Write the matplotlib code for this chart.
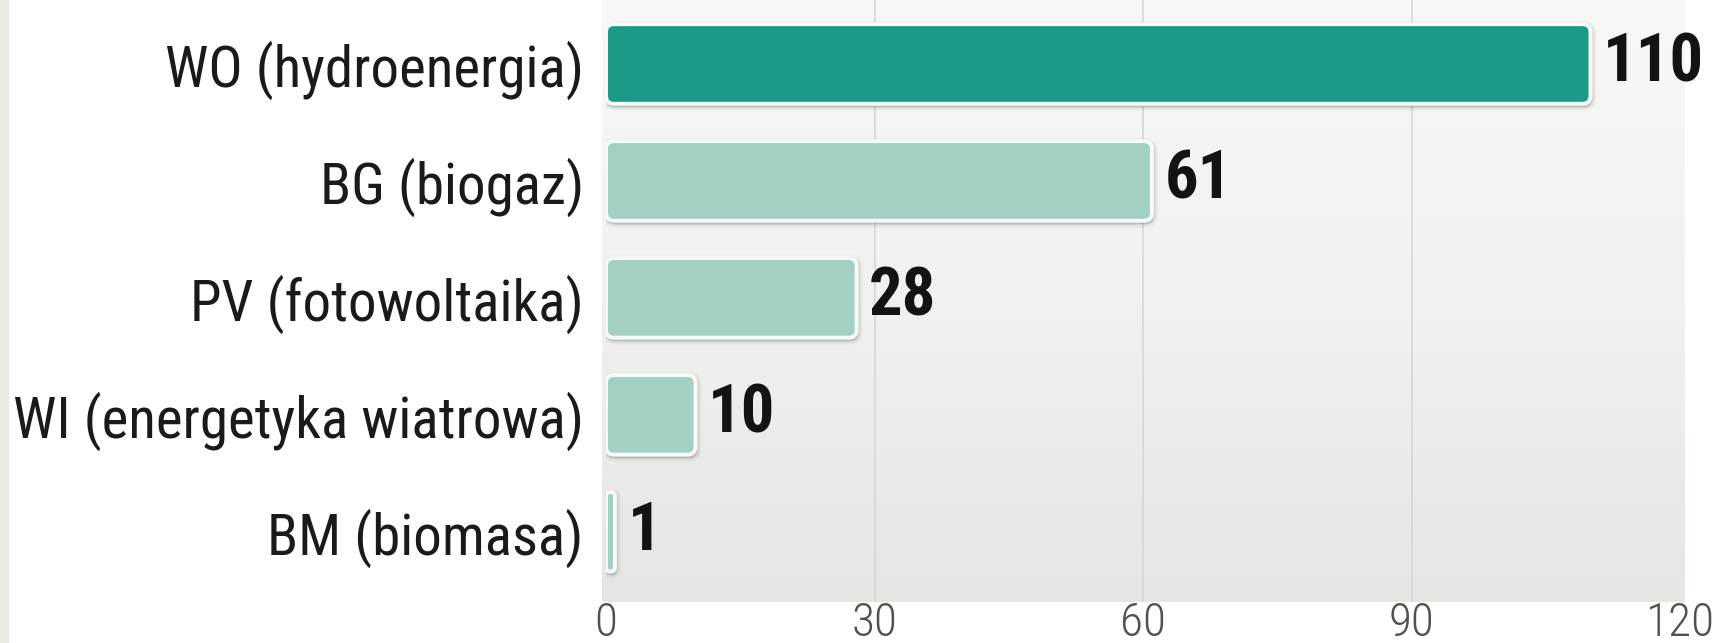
import matplotlib
matplotlib.use('Agg')
import matplotlib.pyplot as plt
import numpy as np
from matplotlib import font_manager as fm
from matplotlib.patches import FancyBboxPatch, Rectangle
from matplotlib.colors import LinearSegmentedColormap
import matplotlib.transforms as mtransforms

categories = ['WO (hydroenergia)', 'BG (biogaz)', 'PV (fotowoltaika)',
              'WI (energetyka wiatrowa)', 'BM (biomasa)']
values = [110, 61, 28, 10, 1]
xticks = [0, 30, 60, 90, 120]
bar_colors = ['#1a9a87', '#a3d0c4', '#a3d0c4', '#a3d0c4', '#a3d0c4']

# ---- font choice: a condensed sans ----
names = {f.name for f in fm.fontManager.ttflist}
family = 'DejaVu Sans'
stretch = 'normal'
for n in ['Roboto Condensed', 'Liberation Sans Narrow', 'Open Sans Condensed',
          'DejaVu Sans Condensed']:
    if n in names:
        family = n
        break
else:
    if any(f.name == 'DejaVu Sans' and f.stretch == 'condensed' for f in fm.fontManager.ttflist):
        stretch = 'condensed'

W, H, DPI = 1717, 643, 100
fig = plt.figure(figsize=(W / DPI, H / DPI), dpi=DPI)
fig.patch.set_facecolor('white')
fig.patches.append(Rectangle((0, 0), 8 / W, 1, transform=fig.transFigure,
                             color='#ebe9e1', zorder=0))

x0_px, x1_px, bot_px = 606, 1680, 602
ax = fig.add_axes([x0_px / W, (H - bot_px) / H, (x1_px - x0_px) / W, bot_px / H])
ax.set_facecolor('none')
ymin, ymax = 4.60, -0.547
px_per_x = (x1_px - x0_px) / 120.0
px_per_y = bot_px / (ymin - ymax)

# panel background with gradient and rounded corners
panel = FancyBboxPatch((-0.003, 0), 1.004, 1.3, boxstyle='round,pad=0,rounding_size=0.03',
                       mutation_aspect=(x1_px - x0_px) / bot_px,
                       transform=ax.transAxes, facecolor='none', edgecolor='none')
ax.add_patch(panel)
cmap = LinearSegmentedColormap.from_list('g', ['#f8f8f7', '#f1f1ef', '#e5e5e1'])
grad = np.linspace(0, 1, 256).reshape(-1, 1)
im = ax.imshow(grad, extent=(-0.5, 120.5, ymin, ymax), aspect='auto', cmap=cmap,
               origin='upper', zorder=0, interpolation='bilinear', clip_on=False)
im.set_clip_path(panel)

# grid lines
for t in xticks[1:-1]:
    ax.axvline(t, color='#d4d4d0', lw=1.1, zorder=1)

bars = ax.barh(range(len(values)), values, height=0.68, color=bar_colors, zorder=2)
aspect = px_per_x / px_per_y
for rect, col in zip(bars, bar_colors):
    x, y, w, h = rect.get_x(), rect.get_y(), rect.get_width(), rect.get_height()
    rect.set_visible(False)
    rs = min(0.9, w / 2)
    # soft shadow all around, stronger below
    for pad_px, dy, a in [(5, -2, 0.05), (3.5, -2, 0.07), (2, -2, 0.10), (0.5, -3, 0.18)]:
        pd = pad_px / px_per_x
        sh = FancyBboxPatch((x, y), w, h,
                            boxstyle=f'round,pad={pd},rounding_size={rs + pd}',
                            mutation_aspect=aspect, facecolor='#5e5e5e', edgecolor='none',
                            alpha=a, zorder=2,
                            transform=mtransforms.offset_copy(ax.transData, fig, x=1, y=dy, units='dots'))
        ax.add_patch(sh)
    p = FancyBboxPatch((x, y), w, h, boxstyle=f'round,pad=0,rounding_size={rs}',
                       mutation_aspect=aspect, facecolor=col, edgecolor='#f4fbf9',
                       linewidth=2.8, zorder=3)
    ax.add_patch(p)

for i, v in enumerate(values):
    ax.annotate(str(v), xy=(v, i), xytext=(9, 0), textcoords='offset points',
                va='center', ha='left', fontsize=48, fontweight='bold',
                family=family, fontstretch=stretch, color='#131313', zorder=4)

ax.set_xlim(0, 120)
ax.set_ylim(ymin, ymax)
ax.set_xticks(xticks)
ax.set_xticklabels([str(t) for t in xticks], family=family, fontstretch=stretch,
                   fontsize=34, fontweight='light', color='#505050')
ax.set_yticks(range(len(categories)))
ax.set_yticklabels(categories, family=family, fontstretch=stretch, fontsize=41,
                   color='#1a1a1a')
ax.tick_params(axis='x', length=0, pad=-1)
ax.tick_params(axis='y', length=0, pad=16)
for s in ax.spines.values():
    s.set_visible(False)

fig.savefig('out.png', dpi=DPI)
